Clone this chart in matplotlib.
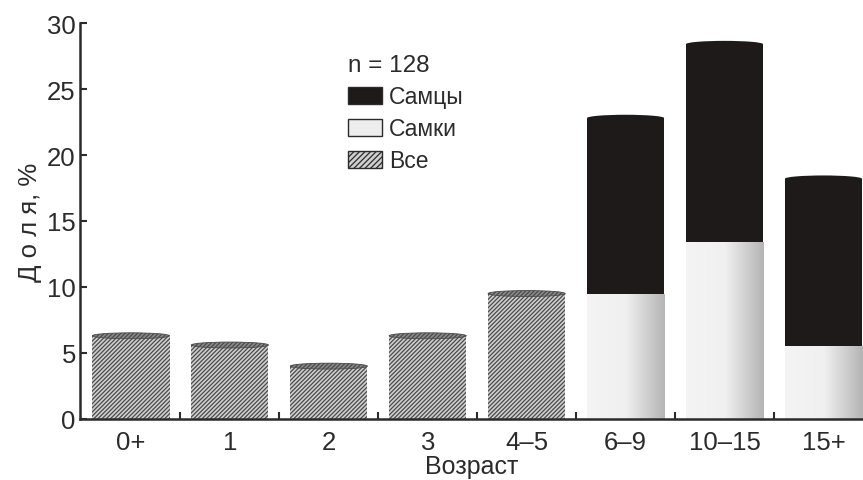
import matplotlib.pyplot as plt
import numpy as np
from matplotlib.patches import Ellipse, Patch
from matplotlib.colors import LinearSegmentedColormap

plt.rcParams['font.family'] = ['Liberation Sans', 'DejaVu Sans']
plt.rcParams['hatch.linewidth'] = 0.9

categories = ['0+', '1', '2', '3', '4–5', '6–9', '10–15', '15+']
all_vals = [6.3, 5.6, 4.0, 6.3, 9.5, None, None, None]
female_vals = [None, None, None, None, None, 9.5, 13.4, 5.5]
total_vals = [None, None, None, None, None, 22.8, 28.4, 18.2]

ink = '#2b2b2b'
width = 0.78

fig = plt.figure(figsize=(8.63, 4.81), dpi=100)
ax = fig.add_axes([0.0927, 0.127, 0.9073, 0.823])
x = np.arange(len(categories))

# hatched "all" bars
ia = [i for i, v in enumerate(all_vals) if v is not None]
va = [all_vals[i] for i in ia]
ax.bar(ia, va, width, color='#cfcfcf', edgecolor='#4a4a4a', hatch='////////', linewidth=0)
for i, v in zip(ia, va):
    ax.add_patch(Ellipse((i, v), width, 0.45, facecolor='#8a8a8a', edgecolor='#4a4a4a',
                         hatch='////////', linewidth=0.6, zorder=3))

# stacked female / male bars
isx = [i for i, v in enumerate(female_vals) if v is not None]
vf = [female_vals[i] for i in isx]
vt = [total_vals[i] for i in isx]
vm = [t - f for t, f in zip(vt, vf)]
fbars = ax.bar(isx, vf, width, color='#e6e6e6', linewidth=0, zorder=2)
ax.bar(isx, vm, width, bottom=vf, color='#1e1a1a', linewidth=0, zorder=2)
grad = LinearSegmentedColormap.from_list('g', ['#f4f4f4', '#f0f0f0', '#b5b5b5'])
for b in fbars:
    x0, w, h = b.get_x(), b.get_width(), b.get_height()
    im = ax.imshow(np.linspace(0, 1, 100).reshape(1, -1), cmap=grad, aspect='auto',
                   extent=(x0, x0 + w, 0, h), zorder=2.5)
    im.set_clip_path(b)
for i, t in zip(isx, vt):
    ax.add_patch(Ellipse((i, t), width, 0.5, facecolor='#1e1a1a', linewidth=0, zorder=3))

ax.set_xlim(-0.515, 7.4)
ax.set_ylim(0, 30)
ax.set_yticks(range(0, 31, 5))
ax.set_xticks(x)
ax.set_xticklabels(categories)
ax.set_xticks(x[:-1] + 0.5, minor=True)
ax.tick_params(axis='x', which='major', length=0, pad=8, labelsize=18.5, colors=ink)
ax.tick_params(axis='x', which='minor', direction='in', length=5, width=1.5, color=ink)
ax.tick_params(axis='y', direction='in', length=5, width=1.5, pad=3, labelsize=18.5,
               colors=ink)
for s in ['top', 'right']:
    ax.spines[s].set_visible(False)
for s in ['left', 'bottom']:
    ax.spines[s].set_linewidth(1.8)
    ax.spines[s].set_color(ink)

ax.set_xlabel('Возраст', fontsize=18, color=ink, labelpad=0)
ax.set_ylabel('Д о л я, %', fontsize=18.5, color=ink, labelpad=4)

handles = [Patch(facecolor='#1e1a1a', edgecolor=ink),
           Patch(facecolor='#ededed', edgecolor=ink),
           Patch(facecolor='#cfcfcf', edgecolor=ink, hatch='//////')]
leg = ax.legend(handles, ['Самцы', 'Самки', 'Все'], title='n = 128', loc='upper left',
                bbox_to_anchor=(0.33, 0.945), frameon=False, fontsize=16.5,
                title_fontsize=17.5, handlelength=1.5, handleheight=0.75, handletextpad=0.3,
                labelspacing=0.4, borderaxespad=0)
leg._legend_box.align = 'left'
for t in leg.get_texts():
    t.set_color(ink)
leg.get_title().set_color(ink)

fig.savefig('out.png', dpi=100)
